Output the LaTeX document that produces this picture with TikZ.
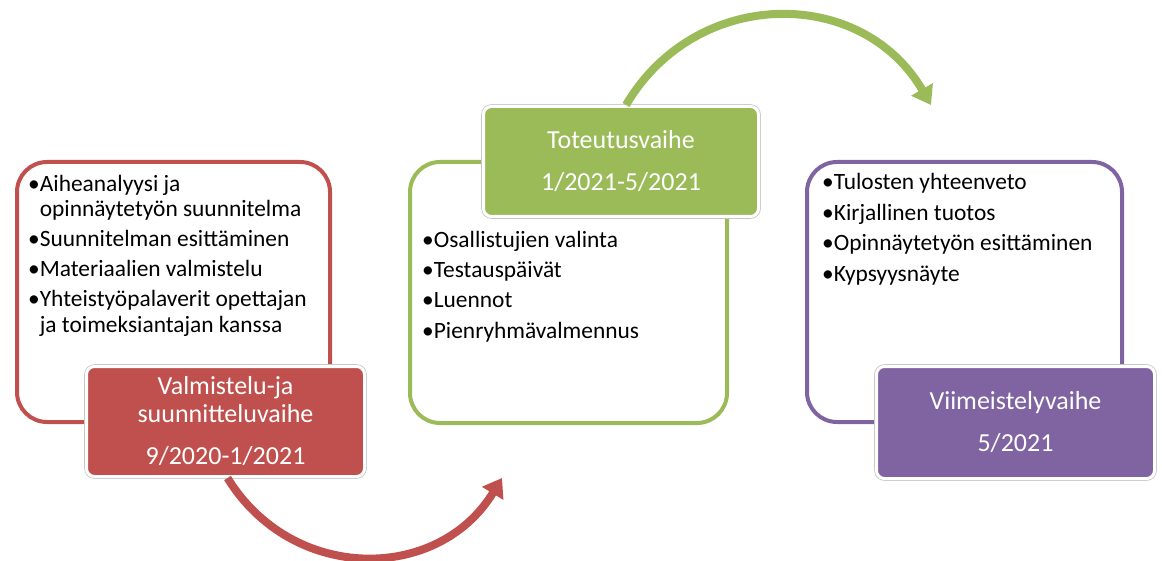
\documentclass[tikz,border=0pt]{standalone}
\usepackage{fontspec}
\setmainfont{Carlito}
\usetikzlibrary{arrows.meta}
\definecolor{cred}{HTML}{C0504D}
\definecolor{cgreen}{HTML}{9BBB59}
\definecolor{cpurple}{HTML}{8064A2}
\tikzset{
  outerbox/.style={draw=#1, line width=4pt, rounded corners=30pt, inner sep=0pt},
  labelbox/.style={fill=#1, draw=white, line width=3pt, rounded corners=8pt,
    preaction={draw=black!22, line width=4.6pt}, text=white,
    font=\fontsize{26}{28}\selectfont, align=center, inner sep=0pt},
  bodytext/.style={anchor=base west, inner sep=0pt, font=\fontsize{23.4}{28}\selectfont},
  flowarrow/.style={draw=#1, line width=8pt, -{Triangle[width=24pt,length=18pt]}},
}
\begin{document}
\begin{tikzpicture}[x=1pt,y=-1pt]
\useasboundingbox (0,0) rectangle (1162,561);
% outer boxes
\node[outerbox=cred, minimum width=313pt, minimum height=260pt] (redbox) at (173.5,292) {};
\node[outerbox=cgreen, minimum width=317pt, minimum height=261pt] (greenbox) at (568.5,292.5) {};
\node[outerbox=cpurple, minimum width=315pt, minimum height=260pt] (purplebox) at (964.5,292) {};
% body texts
\node[bodytext] (r1) at (28,192) {•Aiheanalyysi ja};
\node[bodytext] (r2) at (28,217) {\phantom{•}opinnäytetyön suunnitelma};
\node[bodytext] (r3) at (28,247) {•Suunnitelman esittäminen};
\node[bodytext] (r4) at (28,277) {•Materiaalien valmistelu};
\node[bodytext] (r5) at (28,307) {•Yhteistyöpalaverit opettajan};
\node[bodytext] (r6) at (28,333) {\phantom{•}ja toimeksiantajan kanssa};
\node[bodytext] (g1) at (422,248) {•Osallistujien valinta};
\node[bodytext] (g2) at (422,278) {•Testauspäivät};
\node[bodytext] (g3) at (422,308) {•Luennot};
\node[bodytext] (g4) at (422,338) {•Pienryhmävalmennus};
\node[bodytext] (p1) at (822,190) {•Tulosten yhteenveto};
\node[bodytext] (p2) at (822,221) {•Kirjallinen tuotos};
\node[bodytext] (p3) at (822,251) {•Opinnäytetyön esittäminen};
\node[bodytext] (p4) at (822,282) {•Kypsyysnäyte};
% label boxes
\node[labelbox=cred, minimum width=278pt, minimum height=110pt] (redlabel) at (225.5,421.5)
  {Valmistelu-ja\\suunnitteluvaihe\\[14pt]9/2020-1/2021};
\node[labelbox=cgreen, minimum width=275pt, minimum height=110pt] (greenlabel) at (621,161.5)
  {Toteutusvaihe\\[14pt]1/2021-5/2021};
\node[labelbox=cpurple, minimum width=278pt, minimum height=112pt] (purplelabel) at (1015.5,422.5)
  {Viimeistelyvaihe\\[14pt]5/2021};
% arrows
\coordinate (redtip) at (502,478);
\coordinate (greentip) at (931,105);
\draw[flowarrow=cred] ([xshift=2pt]redlabel.south) .. controls (292,583) and (438,583) .. (redtip);
\draw[flowarrow=cgreen] ([xshift=5pt]greenlabel.north) .. controls (696,-14) and (862,-14) .. (greentip);
\end{tikzpicture}
\end{document}
